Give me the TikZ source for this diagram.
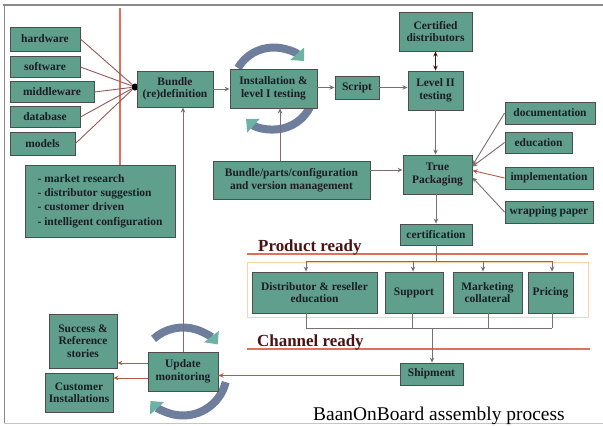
\documentclass[tikz,border=0pt]{standalone}
\usepackage{fontspec}
\setmainfont{Liberation Serif}
\usetikzlibrary{arrows.meta,calc}
\definecolor{boxfill}{HTML}{5F9F8B}
\definecolor{boxline}{HTML}{4D4D4D}
\definecolor{txt}{HTML}{1C1C24}
\definecolor{conn}{HTML}{7A6E6E}
\definecolor{redl}{HTML}{E0705A}
\definecolor{maroon}{HTML}{4A1212}
\definecolor{swirlc}{HTML}{6F7E9C}
\definecolor{swirltip}{HTML}{6DB3A5}
\definecolor{frame}{HTML}{8A8A8A}
\tikzset{
  box/.style={draw=boxline, line width=0.9bp, fill=boxfill, text=txt, align=center,
    inner sep=1bp, font=\fontsize{11.5}{12.5}\selectfont\bfseries},
  link/.style={draw=conn, line width=0.9bp},
  arr/.style={link, -{Stealth[length=5bp,width=4.5bp]}},
  redarr/.style={draw=redl!80!black, line width=0.9bp, -{Stealth[length=5bp,width=4.5bp]}},
  redline/.style={draw=redl, line width=1.8bp},
  swirl/.style={draw=swirlc, line width=8bp,
    -{Triangle[length=10bp,width=18bp,fill=swirltip,color=swirltip]}},
  ready/.style={text=maroon, font=\fontsize{17}{19}\selectfont\bfseries, inner sep=0pt, anchor=base west},
}
\begin{document}
\begin{tikzpicture}[x=1bp,y=-1bp]
\useasboundingbox (0,0) rectangle (603,425);
% frame
\draw[frame, line width=1.6bp] (3,5) -- (603,5);
\draw[frame, line width=0.8bp] (4,5) -- (4,423);
\draw[frame!50, line width=0.6bp] (4,423) -- (603,423);

% swirls (behind boxes)
\coordinate (s1) at (273.5,88.5);
\draw[swirl] ($(s1)+(-150:41)$) arc[start angle=-150, end angle=-42, radius=41];
\draw[swirl] ($(s1)+(18:41)$) arc[start angle=18, end angle=132, radius=41];
\coordinate (s2) at (183,371.5);
\draw[swirl] ($(s2)+(-132:44)$) arc[start angle=-132, end angle=-38, radius=44];
\draw[swirl] ($(s2)+(14:44)$) arc[start angle=14, end angle=138, radius=44];

% red vertical line
\coordinate (rtop) at (120,8);

% left column
\node[box, minimum width=70bp, minimum height=24bp] (hw) at (45,39) {hardware};
\node[box, minimum width=70bp, minimum height=21bp] (sw) at (45,67) {software};
\node[box, minimum width=84bp, minimum height=21bp] (mw) at (52,92) {middleware};
\node[box, minimum width=70bp, minimum height=21bp] (db) at (45,117) {database};
\node[box, minimum width=65bp, minimum height=23bp] (md) at (42.5,143.5) {models};
\node[box, minimum width=150bp, minimum height=72bp, align=left,
  font=\fontsize{11.5}{14.5}\selectfont\bfseries] (bul) at (100,201)
  {- market research\\- distributor suggestion\\- customer driven\\- intelligent configuration};
\draw[redline] (rtop) -- (rtop |- bul.north);

\node[circle, fill=black, inner sep=0pt, minimum size=7bp] (dot) at (135,87) {};
\foreach \b in {hw,sw,mw,db,md} \draw[draw=conn!80!red, line width=0.9bp] (\b.east) -- (dot);

% top row
\node[box, minimum width=76bp, minimum height=36bp] (bun) at (175,89) {Bundle\\(re)definition};
\node[box, minimum width=87bp, minimum height=39bp] (ins) at (273.5,88.5) {Installation \&\\level I testing};
\node[box, minimum width=44bp, minimum height=23bp] (scr) at (357,87.5) {Script};
\node[box, minimum width=55bp, minimum height=39bp] (lv2) at (435.5,90.5) {Level II\\testing};
\node[box, minimum width=73bp, minimum height=39bp] (cer) at (435.5,31.5) {Certified\\distributors};

\draw[arr] (bun.east) -- (bun.east -| ins.west);
\draw[arr] (ins.east |- scr.west) -- (scr.west);
\draw[arr] (scr.east) -- (scr.east -| lv2.west);
\draw[link, {Stealth[length=5bp,width=4.5bp]}-{Stealth[length=5bp,width=4.5bp]}, draw=maroon] (cer.south) -- (lv2.north);

% middle
\node[box, minimum width=157bp, minimum height=38bp] (bpc) at (291.5,180) {Bundle/parts/configuration\\and version management};
\node[box, minimum width=69bp, minimum height=39bp] (tp) at (437.5,174.5) {True\\Packaging};
\draw[arr] ([xshift=-11.5bp]bpc.north) -- ([xshift=-11.5bp]bpc.north |- ins.south);
\draw[arr] (bpc.east |- 0,170) -- (tp.west |- 0,170);
\draw[arr] (lv2.south) -- (lv2.south |- tp.north);

\node[box, minimum width=90bp, minimum height=22bp] (doc) at (550,113) {documentation};
\node[box, minimum width=67bp, minimum height=21bp] (edu) at (538.5,142.5) {education};
\node[box, minimum width=88bp, minimum height=22bp] (imp) at (549,178) {implementation};
\node[box, minimum width=88bp, minimum height=22bp] (wrp) at (549,212) {wrapping paper};
\draw[arr] (doc.west) -- ([yshift=9bp]tp.east);
\draw[arr] (edu.west) -- ([yshift=8bp]tp.east);
\draw[redarr] (imp.west) -- ([yshift=4bp]tp.east);
\draw[arr] (wrp.west) -- ([yshift=-3bp]tp.east);

\node[box, minimum width=72bp, minimum height=21bp] (ctf) at (436,234.5) {certification};
\draw[arr] (tp.south -| ctf.north) -- (ctf.north);

% product ready
\coordinate (pl) at (247,254);
\coordinate (pr) at (588,254);
\draw[redline] (pl) -- (pr);
\node[ready] (prt) at (258,251) {Product ready};

\draw[draw=orange!35, line width=0.8bp] (247,262) rectangle (588,317);

\node[box, minimum width=125bp, minimum height=41bp] (dre) at (314.5,292.5) {Distributor \& reseller\\education};
\node[box, minimum width=58bp, minimum height=41bp] (sup) at (414,292.5) {Support};
\node[box, minimum width=69bp, minimum height=41bp] (mkt) at (487.5,292.5) {Marketing\\collateral};
\node[box, minimum width=45bp, minimum height=41bp] (prc) at (550.5,292.5) {Pricing};

\coordinate (ta) at (306,261);
\coordinate (tb) at (413,261);
\coordinate (tc) at (483,261);
\coordinate (td) at (552,261);
\draw[link] (ctf.south) -- (ctf.south |- ta);
\draw[link] (ta) -- (td);
\draw[arr] (ta) -- (ta |- dre.north);
\draw[arr] (tb) -- (tb |- sup.north);
\draw[arr] (tc) -- (tc |- mkt.north);
\draw[arr] (td) -- (td |- prc.north);

\coordinate (ba) at (306,328);
\coordinate (bb) at (412,328);
\coordinate (bc) at (488,328);
\coordinate (bd) at (552,328);
\coordinate (bm) at (432,328);
\draw[link] (ba |- dre.south) -- (ba);
\draw[link] (bb |- sup.south) -- (bb);
\draw[link] (bc |- mkt.south) -- (bc);
\draw[link] (bd |- prc.south) -- (bd);
\draw[link] (ba) -- (bd);

% channel ready
\coordinate (cl) at (247,349);
\coordinate (cr) at (590,349);
\draw[redline] (cl) -- (cr);
\node[ready] (chr) at (257,346) {Channel ready};

\node[box, minimum width=63bp, minimum height=22bp] (shp) at (431.5,374) {Shipment};
\draw[arr] (bm) -- (bm |- shp.north);

% bottom left
\node[box, minimum width=70bp, minimum height=39bp] (upd) at (183,371.5) {Update\\monitoring};
\node[box, minimum width=68bp, minimum height=54bp] (suc) at (83,341) {Success \&\\Reference\\stories};
\node[box, minimum width=68bp, minimum height=39bp] (cus) at (79,392.5) {Customer\\Installations};
\draw[redarr] ([yshift=-1.5bp]shp.west) -- ([yshift=-1.5bp]shp.west -| upd.east);
\draw[redarr] ([yshift=8.5bp]upd.west) -- ([yshift=8.5bp]upd.west -| suc.east);
\draw[redarr] ([yshift=-6.5bp]upd.west) -- ([yshift=-6.5bp]upd.west -| cus.east);
\draw[arr] (upd.north) -- (upd.north |- bun.south);

\node[font=\fontsize{19.5}{21}\selectfont, text=black, inner sep=0pt, anchor=base west] (ttl) at (313,420) {BaanOnBoard assembly process};
\end{tikzpicture}
\end{document}
